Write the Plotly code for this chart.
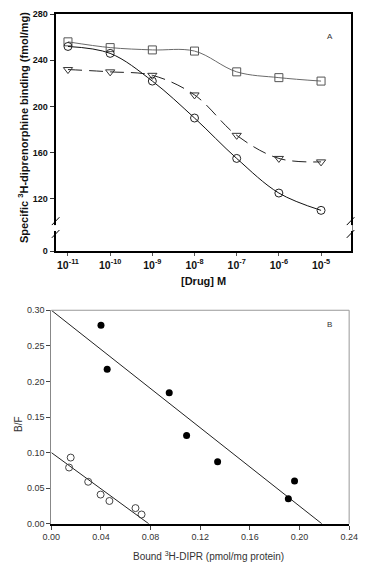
import plotly.graph_objects as go

# ---------------- Panel A data ----------------
drug_conc = [1e-11, 1e-10, 1e-9, 1e-8, 1e-7, 1e-6, 1e-5]
squares = [256, 251, 249, 248, 230, 225, 222]
circles = [252, 246, 222, 190, 155, 125, 110]
triangles = [232, 230, 227, 210, 175, 155, 152]
x_tick_text = ["10<sup>-11</sup>", "10<sup>-10</sup>", "10<sup>-9</sup>", "10<sup>-8</sup>",
               "10<sup>-7</sup>", "10<sup>-6</sup>", "10<sup>-5</sup>"]
y_tick_labels = ["0", "120", "160", "200", "240", "280"]
y_break_zero = 74.7  # axis position where the "0" label sits (broken axis)
y_tick_vals = [y_break_zero, 120, 160, 200, 240, 280]

# ---------------- Panel B data ----------------
filled_x = [0.040, 0.045, 0.095, 0.109, 0.134, 0.191, 0.196]
filled_y = [0.279, 0.217, 0.184, 0.124, 0.087, 0.035, 0.060]
open_x = [0.0156, 0.0143, 0.0297, 0.0397, 0.0468, 0.0678, 0.0727]
open_y = [0.093, 0.079, 0.059, 0.041, 0.032, 0.022, 0.013]
filled_fit_x = [0.0, 0.218]
filled_fit_y = [0.30, 0.0]
open_fit_x = [0.0, 0.0785]
open_fit_y = [0.10, 0.0]

W, H = 371, 571
FONT = "Arial, Liberation Sans, sans-serif"

def px(x):
    return x / W

def py(y):
    return 1 - y / H

fig = go.Figure()

# Panel A traces
fig.add_trace(go.Scatter(x=drug_conc, y=squares, mode="lines+markers",
                         line=dict(color="#6a6a6a", width=1, shape="spline", smoothing=1.0),
                         marker=dict(symbol="square-open", size=8, color="#555555",
                                     line=dict(width=1, color="#555555")),
                         xaxis="x", yaxis="y", showlegend=False))
fig.add_trace(go.Scatter(x=drug_conc, y=triangles, mode="lines+markers",
                         line=dict(color="#222222", width=1, dash="14px,7px", shape="spline", smoothing=1.0),
                         marker=dict(symbol="triangle-down-open", size=8, color="#333333",
                                     line=dict(width=1, color="#333333")),
                         xaxis="x", yaxis="y", showlegend=False))
fig.add_trace(go.Scatter(x=drug_conc, y=circles, mode="lines+markers",
                         line=dict(color="#111111", width=1, shape="spline", smoothing=1.0),
                         marker=dict(symbol="circle-open", size=8, color="#222222",
                                     line=dict(width=1, color="#222222")),
                         xaxis="x", yaxis="y", showlegend=False))

# Panel B traces
fig.add_trace(go.Scatter(x=filled_fit_x, y=filled_fit_y, mode="lines",
                         line=dict(color="#222222", width=1),
                         xaxis="x2", yaxis="y2", showlegend=False))
fig.add_trace(go.Scatter(x=open_fit_x, y=open_fit_y, mode="lines",
                         line=dict(color="#222222", width=1),
                         xaxis="x2", yaxis="y2", showlegend=False))
fig.add_trace(go.Scatter(x=filled_x, y=filled_y, mode="markers",
                         marker=dict(symbol="circle", size=7, color="#000000"),
                         xaxis="x2", yaxis="y2", showlegend=False))
fig.add_trace(go.Scatter(x=open_x, y=open_y, mode="markers",
                         marker=dict(symbol="circle-open", size=7, color="#444444",
                                     line=dict(width=1, color="#444444")),
                         xaxis="x2", yaxis="y2", showlegend=False))

tfB = dict(family=FONT, size=9, color="#333333")

fig.update_layout(
    width=W, height=H,
    margin=dict(l=0, r=0, t=0, b=0),
    paper_bgcolor="white", plot_bgcolor="white",
    xaxis=dict(type="log", domain=[px(49), px(359)], range=[-11.293, -4.30],
               tickvals=drug_conc, ticktext=x_tick_text,
               tickfont=dict(family=FONT, size=10.5, color="#111111", weight="bold"),
               showgrid=False, zeroline=False, showline=True, linewidth=2, linecolor="black",
               mirror=True, ticks="outside", ticklen=3, tickcolor="#555555", tickwidth=1,
               ticklabeloverflow="allow", anchor="y"),
    yaxis=dict(domain=[py(250.5), py(9.3)], range=[y_break_zero, 280],
               tickvals=y_tick_vals, ticktext=y_tick_labels,
               tickfont=dict(family=FONT, size=9, color="#111111", weight="bold"),
               showgrid=False, zeroline=False, showline=True, linewidth=2, linecolor="black",
               mirror=True, ticks="outside", ticklen=4, tickcolor="#333333", tickwidth=1,
               ticklabeloverflow="allow", anchor="x"),
    xaxis2=dict(domain=[px(44.5), px(357.5)], range=[0, 0.24],
                tickvals=[0, 0.04, 0.08, 0.12, 0.16, 0.20, 0.24],
                ticktext=["0.00", "0.04", "0.08", "0.12", "0.16", "0.20", "0.24"],
                tickfont=tfB, showgrid=False, zeroline=False, showline=True,
                linewidth=1.5, linecolor="black", mirror=False,
                ticks="outside", ticklen=4, tickcolor="#444444", tickwidth=1,
                ticklabeloverflow="allow", anchor="y2"),
    yaxis2=dict(domain=[py(528), py(310.7)], range=[0, 0.30],
                tickvals=[0, 0.05, 0.10, 0.15, 0.20, 0.25, 0.30],
                ticktext=["0.00", "0.05", "0.10", "0.15", "0.20", "0.25", "0.30"],
                tickfont=tfB, showgrid=False, zeroline=False, showline=True,
                linewidth=1, linecolor="#888888", mirror=False,
                ticks="outside", ticklen=4, tickcolor="#444444", tickwidth=1,
                ticklabeloverflow="allow", anchor="x2"),
)

shapes = []
# thin box top and right for panel B
shapes.append(dict(type="line", xref="paper", yref="paper", x0=px(44.5), x1=px(357.5),
                   y0=py(310.7), y1=py(310.7), line=dict(color="#999999", width=1)))
shapes.append(dict(type="line", xref="paper", yref="paper", x0=px(357.5), x1=px(357.5),
                   y0=py(310.7), y1=py(528), line=dict(color="#999999", width=1)))

# axis-break marks on panel A (left and right axes)
for xa in (49, 359):
    shapes.append(dict(type="rect", xref="paper", yref="paper",
                       x0=px(xa - 2), x1=px(xa + 2), y0=py(230), y1=py(224),
                       line=dict(width=0), fillcolor="white", layer="above"))
    shapes.append(dict(type="line", xref="paper", yref="paper",
                       x0=px(xa - 4), y0=py(224), x1=px(xa + 4), y1=py(216),
                       line=dict(color="black", width=1), layer="above"))
    shapes.append(dict(type="line", xref="paper", yref="paper",
                       x0=px(xa - 4), y0=py(237), x1=px(xa + 4), y1=py(229),
                       line=dict(color="black", width=1), layer="above"))
fig.update_layout(shapes=shapes)

annotations = [
    dict(text="Specific <sup>3</sup>H-diprenorphine binding (fmol/mg)", xref="paper", yref="paper",
         x=px(15), y=py(125), textangle=-90, showarrow=False,
         font=dict(family=FONT, size=11, color="#111111", weight="bold"),
         xanchor="center", yanchor="middle"),
    dict(text="[Drug] M", xref="paper", yref="paper", x=px(204), y=py(281),
         showarrow=False, font=dict(family=FONT, size=11, color="#111111", weight="bold"),
         xanchor="center", yanchor="middle"),
    dict(text="A", xref="paper", yref="paper", x=px(337), y=py(32), showarrow=False,
         font=dict(family=FONT, size=8, color="#333333"), xanchor="center", yanchor="middle"),
    dict(text="B/F", xref="paper", yref="paper", x=px(10), y=py(427), textangle=-90,
         showarrow=False, font=dict(family=FONT, size=10, color="#333333"),
         xanchor="center", yanchor="middle"),
    dict(text="Bound <sup>3</sup>H-DIPR (pmol/mg protein)", xref="paper", yref="paper",
         x=px(210), y=py(561), showarrow=False,
         font=dict(family=FONT, size=10, color="#333333"), xanchor="center", yanchor="middle"),
    dict(text="B", xref="paper", yref="paper", x=px(337), y=py(325), showarrow=False,
         font=dict(family=FONT, size=8, color="#333333"), xanchor="center", yanchor="middle"),
]
fig.update_layout(annotations=annotations)

fig.write_html("out.html", config={"displayModeBar": False},
               post_script="document.body.style.margin='0';document.body.style.overflow='hidden';")
